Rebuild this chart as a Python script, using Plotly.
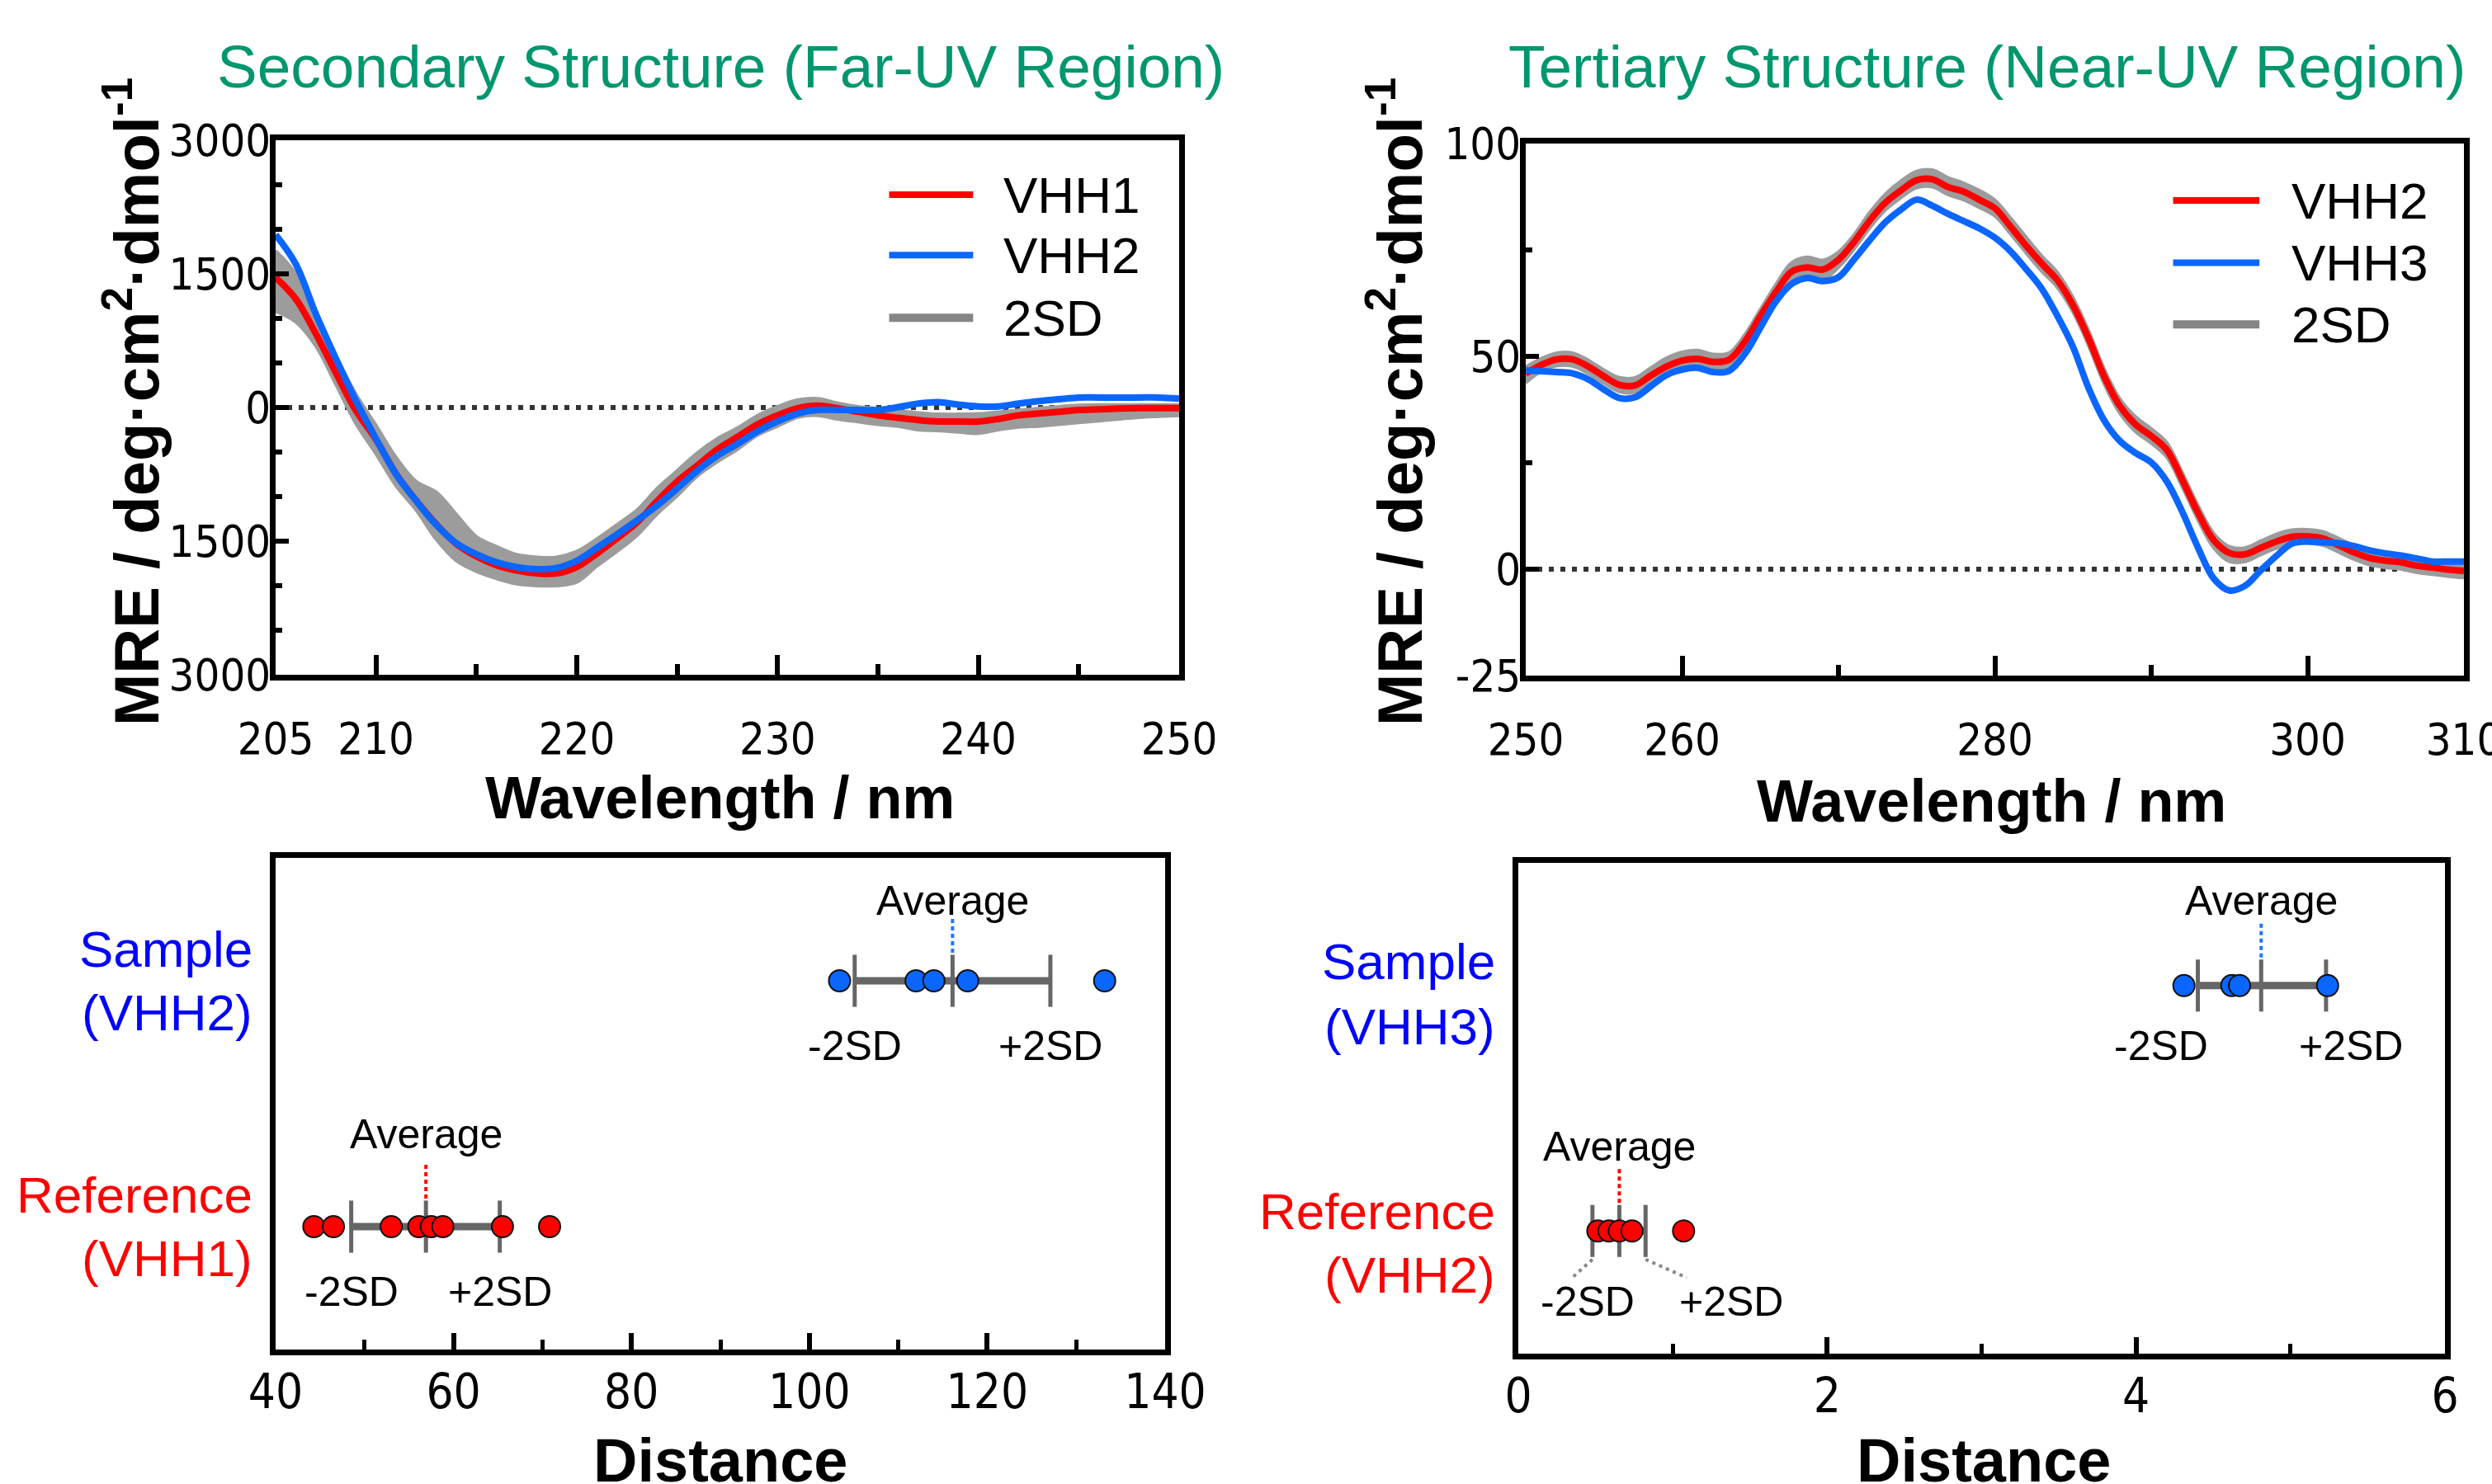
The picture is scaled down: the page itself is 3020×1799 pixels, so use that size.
import plotly.graph_objects as go

# ---------------- data ----------------
far_wl = list(range(205, 251))
far_vhh1 = [1458, 1220, 830, 390, -35, -360, -745, -1045, -1310, -1530, -1670, -1770, -1830, -1862, -1862,
            -1790, -1640, -1470, -1290, -1050, -831, -651, -470, -329, -189, -88, -8, 20, -8, -48,
            -88, -116, -141, -157, -157, -157, -129, -88, -68, -48, -28, -20, -12, -8, -8, -8]
far_vhh2 = [1940, 1612, 1052, 550, 75, -350, -750, -1047, -1317, -1522, -1647, -1737, -1792, -1815, -1800,
            -1720, -1575, -1425, -1266, -1100, -910, -711, -542, -410, -269, -157, -68, -28, -28, -28,
            -28, 4, 44, 60, 32, 12, 12, 44, 72, 92, 112, 112, 112, 112, 112, 100]
far_sd_hi = [1760, 1500, 1000, 580, 150, -200, -560, -830, -950, -1200, -1450, -1560, -1650, -1680, -1680,
             -1615, -1475, -1315, -1150, -910, -710, -510, -350, -230, -90, 10, 85, 100, 50, 10,
             -10, -35, -60, -75, -75, -70, -50, -30, -10, 10, 25, 30, 30, 30, 30, 30]
far_sd_lo = [1080, 960, 690, 260, -180, -520, -880, -1150, -1480, -1720, -1840, -1920, -1980, -2000, -2000,
             -1960, -1780, -1615, -1435, -1195, -990, -770, -610, -470, -310, -210, -110, -90, -130, -160,
             -190, -210, -250, -260, -275, -290, -250, -220, -210, -190, -170, -150, -130, -110, -100, -90]

near_wl = list(range(250, 311))
near_vhh2 = [46.0, 48.0, 49.3, 49.3, 47.6, 45.3, 43.3, 43.2, 45.5, 47.6,
             49.0, 49.4, 48.7, 49.2, 53.4, 59.4, 65.1, 69.9, 70.9, 70.4,
             72.7, 76.9, 81.9, 86.1, 89.0, 91.4, 91.6, 89.8, 88.7, 86.8,
             84.8, 80.5, 76.0, 71.8, 67.9, 62.0, 54.2, 45.2, 38.3, 34.0,
             31.3, 28.0, 20.9, 13.2, 6.8, 3.8, 3.5, 5.0, 6.5, 7.6,
             7.7, 7.2, 5.6, 3.9, 2.6, 2.0, 1.6, 0.8, 0.4, -0.1, -0.4]
near_vhh3 = [46.7, 46.5, 46.3, 46.0, 44.6, 42.2, 40.2, 40.4, 43.0, 45.6,
             46.9, 47.3, 46.3, 46.6, 50.5, 56.7, 62.9, 67.0, 68.4, 67.7,
             68.6, 72.8, 77.3, 81.5, 84.5, 86.8, 85.4, 83.5, 81.8, 80.1,
             77.9, 74.7, 70.5, 65.9, 59.5, 52.2, 42.5, 34.9, 30.1, 27.3,
             25.1, 20.6, 13.4, 5.0, -2.2, -5.0, -3.9, -0.3, 3.1, 6.0,
             6.5, 6.3, 6.1, 5.4, 4.4, 3.7, 3.2, 2.5, 1.8, 1.8, 1.8]
near_sd_hi = [47.5, 49.5, 50.8, 50.8, 49.1, 46.8, 45.0, 45.0, 47.3, 49.6,
              51.0, 51.4, 50.5, 50.8, 55.0, 61.0, 66.9, 72.0, 73.3, 72.6,
              74.5, 78.6, 83.8, 88.1, 91.2, 93.5, 93.8, 92.0, 90.7, 89.0,
              86.7, 82.5, 78.0, 73.6, 69.7, 63.8, 56.0, 47.0, 40.0, 35.8,
              33.0, 29.7, 22.6, 14.9, 8.4, 5.3, 5.0, 6.6, 8.2, 9.2,
              9.3, 8.8, 7.2, 5.5, 4.2, 3.6, 3.2, 2.4, 2.0, 1.5, 1.2]
near_sd_lo = [43.8, 46.5, 47.8, 47.7, 46.0, 43.7, 41.7, 41.6, 43.9, 46.0,
              47.4, 47.8, 47.0, 47.6, 51.8, 57.8, 63.4, 68.2, 69.0, 68.0,
              70.9, 75.2, 80.2, 84.4, 87.3, 89.6, 89.8, 88.0, 86.8, 85.0,
              83.0, 78.8, 74.3, 70.0, 66.2, 60.4, 52.5, 43.5, 36.6, 32.3,
              29.6, 26.3, 19.2, 11.5, 5.0, 1.8, 1.8, 3.4, 4.9, 6.0,
              6.1, 5.6, 4.0, 2.3, 1.0, 0.4, 0.0, -0.8, -1.2, -1.7, -2.0]

far_yticks = [-3000, -1500, 0, 1500, 3000]
far_yticktext = ["3000", "1500", "0", "1500", "3000"]
far_xticks = [205, 210, 220, 230, 240, 250]
near_yticks = [-25, 0, 50, 100]
near_yticktext = ["-25", "0", "50", "100"]
near_xticks = [250, 260, 280, 300, 310]
dist_left_ticks = [40, 60, 80, 100, 120, 140]
dist_right_ticks = [0, 2, 4, 6]

# distances (points) and [-2SD, average, +2SD]
left_ref_dist = [44.3, 46.5, 53.0, 56.1, 57.5, 58.8, 65.5, 70.8]
left_ref_stats = [48.5, 56.9, 65.2]
left_sample_dist = [103.4, 112.0, 114.0, 117.8, 133.2]
left_sample_stats = [105.1, 116.1, 127.1]
right_ref_dist = [0.515, 0.587, 0.654, 0.736, 1.07]
right_ref_stats = [0.48, 0.654, 0.824]
right_sample_dist = [4.31, 4.62, 4.67, 5.24]
right_sample_stats = [4.40, 4.81, 5.23]

# ---------------- styles ----------------
RED = "#FF0000"
BLUE = "#0A66FF"
BAND = "#9C9C9C"
LEG_GRAY = "#858585"
GREEN = "#00966E"
BAR = "#666666"
ARIAL = "Liberation Sans, Arial, sans-serif"
NARROW = "Liberation Sans Narrow, Arial Narrow, DejaVu Sans Condensed, Liberation Sans, sans-serif"

W, H = 3020, 1799


def dom_x(a, b):
    return [a / W, b / W]


def dom_y(top, bottom):
    return [1 - bottom / H, 1 - top / H]


fig = go.Figure()


def curve_panel(xa, ya, wl, red, blue, lo, hi):
    fig.add_trace(go.Scatter(x=wl, y=lo, mode="lines", line=dict(color=BAND, width=4, shape="spline"),
                             xaxis=xa, yaxis=ya, hoverinfo="skip"))
    fig.add_trace(go.Scatter(x=wl, y=hi, mode="lines", fill="tonexty", fillcolor=BAND,
                             line=dict(color=BAND, width=4, shape="spline"),
                             xaxis=xa, yaxis=ya, hoverinfo="skip"))
    fig.add_trace(go.Scatter(x=wl, y=red, mode="lines", line=dict(color=RED, width=8, shape="spline"),
                             xaxis=xa, yaxis=ya))
    fig.add_trace(go.Scatter(x=wl, y=blue, mode="lines", line=dict(color=BLUE, width=8, shape="spline"),
                             xaxis=xa, yaxis=ya))


curve_panel("x", "y", far_wl, far_vhh1, far_vhh2, far_sd_lo, far_sd_hi)
curve_panel("x2", "y2", near_wl, near_vhh2, near_vhh3, near_sd_lo, near_sd_hi)

ROW_S, ROW_R = 0.75, 0.25
CAP = 0.053


def dist_row(xa, ya, pts, stats, row, color, dotcolor):
    lo, avg, hi = stats
    fig.add_trace(go.Scatter(x=[lo, hi], y=[row, row], mode="lines", line=dict(color=BAR, width=9),
                             xaxis=xa, yaxis=ya, hoverinfo="skip"))
    fig.add_trace(go.Scatter(x=[lo, lo, None, avg, avg, None, hi, hi],
                             y=[row - CAP, row + CAP, None, row - CAP, row + CAP, None, row - CAP, row + CAP],
                             mode="lines", line=dict(color=BAR, width=5),
                             xaxis=xa, yaxis=ya, hoverinfo="skip"))
    fig.add_trace(go.Scatter(x=[avg, avg], y=[row + CAP + 0.004, row + CAP + 0.075], mode="lines",
                             line=dict(color=dotcolor, width=4, dash="5px,4px"),
                             xaxis=xa, yaxis=ya, hoverinfo="skip"))
    fig.add_trace(go.Scatter(x=pts, y=[row] * len(pts), mode="markers",
                             marker=dict(color=color, size=26, line=dict(color="#111111", width=2)),
                             xaxis=xa, yaxis=ya))


dist_row("x3", "y3", left_sample_dist, left_sample_stats, ROW_S, BLUE, "#1E78FF")
dist_row("x3", "y3", left_ref_dist, left_ref_stats, ROW_R, RED, RED)
dist_row("x4", "y4", right_sample_dist, right_sample_stats, ROW_S, BLUE, "#1E78FF")
dist_row("x4", "y4", right_ref_dist, right_ref_stats, ROW_R, RED, RED)

# leader lines for the crowded reference row (right panel)
fig.add_trace(go.Scatter(x=[right_ref_stats[0], 0.35, None, right_ref_stats[2], 1.09],
                         y=[ROW_R - CAP - 0.005, 0.155, None, ROW_R - CAP - 0.005, 0.155],
                         mode="lines", line=dict(color="#888888", width=4, dash="4px,5px"),
                         xaxis="x4", yaxis="y4", hoverinfo="skip"))


def box_axis(domain, anchor, rng, **kw):
    d = dict(domain=domain, anchor=anchor, range=rng, showline=True, mirror=True, linecolor="black",
             linewidth=7, showgrid=False, zeroline=False, ticks="inside", tickcolor="black",
             tickwidth=6, tickfont=dict(family=NARROW, size=54, color="black"), fixedrange=True,
             automargin=False, ticklabeloverflow="allow")
    d.update(kw)
    return d


fig.update_layout(
    width=W, height=H, margin=dict(l=0, r=0, t=0, b=0, pad=0),
    paper_bgcolor="white", plot_bgcolor="white", showlegend=False,
    xaxis=box_axis(dom_x(334, 1429), "y", [205, 250], tickvals=far_xticks, ticklen=24,
                   ticklabelstandoff=24,
                   minor=dict(ticks="inside", dtick=5, tick0=205, ticklen=13, tickwidth=6, tickcolor="black")),
    yaxis=box_axis(dom_y(170, 818), "x", [-3000, 3000], tickvals=far_yticks, ticktext=far_yticktext,
                   ticklen=16, ticklabelstandoff=-12,
                   minor=dict(ticks="inside", dtick=500, tick0=0, ticklen=8, tickwidth=6, tickcolor="black")),
    xaxis2=box_axis(dom_x(1849, 2986), "y2", [250, 310], tickvals=near_xticks, ticklen=24,
                    ticklabelstandoff=24,
                    minor=dict(ticks="inside", dtick=10, tick0=250, ticklen=13, tickwidth=6, tickcolor="black")),
    yaxis2=box_axis(dom_y(174, 819), "x2", [-25, 100], tickvals=near_yticks, ticktext=near_yticktext,
                    ticklen=16, ticklabelstandoff=-12,
                    minor=dict(ticks="inside", dtick=25, tick0=0, ticklen=8, tickwidth=6, tickcolor="black")),
    xaxis3=box_axis(dom_x(334, 1412), "y3", [40, 140], tickvals=dist_left_ticks, ticklen=20,
                    ticklabelstandoff=-6, tickfont=dict(family=NARROW, size=58, color="black"),
                    minor=dict(ticks="inside", dtick=10, tick0=40, ticklen=12, tickwidth=5, tickcolor="black")),
    yaxis3=box_axis(dom_y(1040, 1636), "x3", [0, 1], ticks="", showticklabels=False),
    xaxis4=box_axis(dom_x(1840, 2963), "y4", [0, 6], tickvals=dist_right_ticks, ticklen=20,
                    ticklabelstandoff=-6, tickfont=dict(family=NARROW, size=58, color="black"),
                    minor=dict(ticks="inside", dtick=1, tick0=0, ticklen=12, tickwidth=5, tickcolor="black")),
    yaxis4=box_axis(dom_y(1046, 1641), "x4", [0, 1], ticks="", showticklabels=False),
)

shapes = []
annotations = []

# zero reference lines
for xa, ya in (("x", "y"), ("x2", "y2")):
    shapes.append(dict(type="line", xref=f"{xa} domain", yref=ya, x0=0, x1=1, y0=0, y1=0,
                       line=dict(color="#333333", width=6, dash="6px,8px"), layer="below"))


def legend(xa, ya, names, ys, legx):
    cols = [RED, BLUE, LEG_GRAY]
    widths = [8, 8, 10]
    for name, yy, c, w in zip(names, ys, cols, widths):
        shapes.append(dict(type="line", xref=f"{xa} domain", yref=f"{ya} domain",
                           x0=legx[0], x1=legx[1], y0=yy, y1=yy, line=dict(color=c, width=w)))
        annotations.append(dict(text=name, xref=f"{xa} domain", yref=f"{ya} domain", x=legx[2], y=yy,
                                xanchor="left", yanchor="middle", showarrow=False,
                                font=dict(family=ARIAL, size=62, color="black")))


legend("x", "y", ["VHH1", "VHH2", "2SD"], [0.898, 0.785, 0.668], [0.679, 0.772, 0.804])
legend("x2", "y2", ["VHH2", "VHH3", "2SD"], [0.893, 0.776, 0.660], [0.690, 0.782, 0.814])


def pa(text, x, y, size, color="black", bold=False, angle=0, xanchor="center", family=ARIAL):
    annotations.append(dict(text=f"<b>{text}</b>" if bold else text, xref="paper", yref="paper",
                            x=x, y=y, xanchor=xanchor, yanchor="middle", showarrow=False,
                            textangle=angle, font=dict(family=family, size=size, color=color)))


pa("Secondary Structure (Far-UV Region)", 873 / W, 1 - 81 / H, 73, GREEN)
pa("Tertiary Structure (Near-UV Region)", 2408 / W, 1 - 81 / H, 73, GREEN)
ytitle = "MRE / deg·cm<sup>2</sup>·dmol<sup>-1</sup>"
pa(ytitle, 160 / W, 1 - 487 / H, 76, bold=True, angle=-90)
pa(ytitle, 1691 / W, 1 - 487 / H, 76, bold=True, angle=-90)
pa("Wavelength / nm", 872 / W, 1 - 967 / H, 72, bold=True)
pa("Wavelength / nm", 2413 / W, 1 - 971 / H, 72, bold=True)
pa("Distance", 873 / W, 1 - 1770 / H, 74, bold=True)
pa("Distance", 2404 / W, 1 - 1770 / H, 74, bold=True)

pa("Sample", 308 / W, 1 - 1150 / H, 62, "#0000FF", xanchor="right")
pa("(VHH2)", 308 / W, 1 - 1227 / H, 62, "#0000FF", xanchor="right")
pa("Reference", 308 / W, 1 - 1448 / H, 62, "#FF0000", xanchor="right")
pa("(VHH1)", 308 / W, 1 - 1525 / H, 62, "#FF0000", xanchor="right")
pa("Sample", 1814 / W, 1 - 1165 / H, 62, "#0000FF", xanchor="right")
pa("(VHH3)", 1814 / W, 1 - 1244 / H, 62, "#0000FF", xanchor="right")
pa("Reference", 1814 / W, 1 - 1468 / H, 62, "#FF0000", xanchor="right")
pa("(VHH2)", 1814 / W, 1 - 1545 / H, 62, "#FF0000", xanchor="right")


def da(text, xa, ya, x, y, xshift=0):
    annotations.append(dict(text=text, xref=xa, yref=ya, x=x, y=y, xshift=xshift, xanchor="center",
                            yanchor="middle", showarrow=False,
                            font=dict(family=ARIAL, size=50, color="black")))


da("Average", "x3", "y3", left_sample_stats[1], 0.913)
da("-2SD", "x3", "y3", left_sample_stats[0], 0.617)
da("+2SD", "x3", "y3", left_sample_stats[2], 0.617)
da("Average", "x3", "y3", left_ref_stats[1], 0.438)
da("-2SD", "x3", "y3", left_ref_stats[0], 0.117)
da("+2SD", "x3", "y3", left_ref_stats[2], 0.117)

da("Average", "x4", "y4", right_sample_stats[1], 0.923)
da("-2SD", "x4", "y4", right_sample_stats[0], 0.627, xshift=-45)
da("+2SD", "x4", "y4", right_sample_stats[2], 0.627, xshift=30)
da("Average", "x4", "y4", right_ref_stats[1], 0.422)
da("-2SD", "x4", "y4", right_ref_stats[0], 0.106, xshift=-6)
da("+2SD", "x4", "y4", right_ref_stats[2], 0.106, xshift=104)

fig.update_layout(shapes=shapes, annotations=annotations)
fig.write_html("out.html")
